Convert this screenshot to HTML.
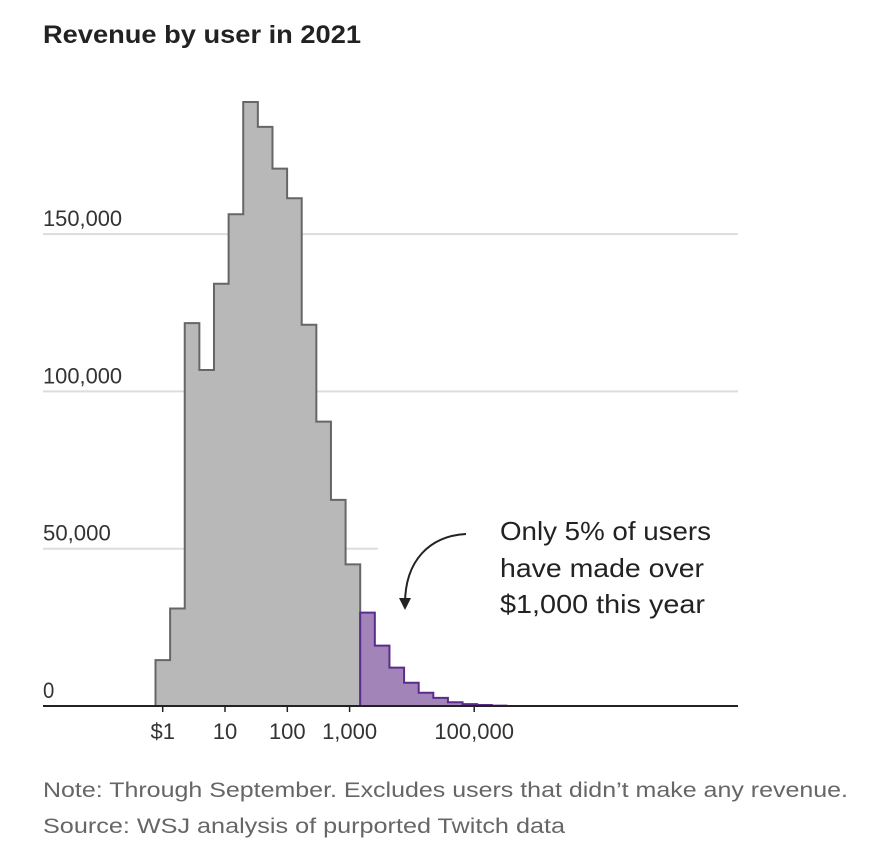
<!DOCTYPE html>
<html><head><meta charset="utf-8"><style>
body{margin:0;background:#fff;}
svg{display:block;font-family:"Liberation Sans",sans-serif;}
</style></head><body>
<svg id="chart" width="869" height="866" viewBox="0 0 869 866">
<text x="43" y="43" font-size="25" font-weight="bold" fill="#222" textLength="318" lengthAdjust="spacingAndGlyphs">Revenue by user in 2021</text>
<g id="grid"></g>
<g id="bars"></g>
<g id="xaxis"></g>
<g>
<path d="M466,534 C430,536 405,560 405,604" fill="none" stroke="#222" stroke-width="2"/>
<path d="M399,598 L405,610 L411,598 Z" fill="#222"/>
<text font-size="26" fill="#222">
<tspan x="500" y="540" textLength="211" lengthAdjust="spacingAndGlyphs">Only 5% of users</tspan>
<tspan x="500" y="577" textLength="204" lengthAdjust="spacingAndGlyphs">have made over</tspan>
<tspan x="500" y="613" textLength="205" lengthAdjust="spacingAndGlyphs">$1,000 this year</tspan>
</text>
</g>
<text x="43" y="797" font-size="21" fill="#666" textLength="805" lengthAdjust="spacingAndGlyphs">Note: Through September. Excludes users that didn’t make any revenue.</text>
<text x="43" y="833" font-size="21" fill="#666" textLength="522" lengthAdjust="spacingAndGlyphs">Source: WSJ analysis of purported Twitch data</text>
</svg>
<script>
const binStartLog = -0.1156;
const binWidthLog = 0.2347;
const counts = [14600,31000,121700,106800,134200,156300,192000,184100,170800,161400,121200,90400,65500,45000,29700,19200,12200,7400,4200,2600,1200,600,300,100];
const highlightFrom = 14;
const yTicks = [0,50000,100000,150000];
const yTickLabels = ["0","50,000","100,000","150,000"];
const xTickValues = [0,1,2,3,5];
const xTickLabels = ["$1","10","100","1,000","100,000"];

const NS="http://www.w3.org/2000/svg";
const x0=162.7, pxPerDecade=62.3, base=706, pxPer=157.3/50000;
const X=l=>x0+l*pxPerDecade;
const Y=v=>base-v*pxPer;
function mk(tag,attrs,parent){const e=document.createElementNS(NS,tag);for(const k in attrs)e.setAttribute(k,attrs[k]);parent.appendChild(e);return e;}
const grid=document.getElementById('grid'),bars=document.getElementById('bars'),xa=document.getElementById('xaxis');
yTicks.forEach((t,i)=>{
  if(t>0){const ln=mk('line',{x1:43,x2:t===50000?378:738,y1:Y(t),y2:Y(t),stroke:'#ddd','stroke-width':2},grid);
  
  }
  const tx=mk('text',{x:43,y:Y(t)-8,'font-size':22,fill:'#333',textLength:yTickLabels[i].length*11.3,lengthAdjust:'spacingAndGlyphs'},grid);
  tx.textContent=yTickLabels[i];
  
  
});
function outline(from,to,fill,stroke,name){
  let d='M'+X(binStartLog+from*binWidthLog)+','+base;
  for(let i=from;i<to;i++){
    const xa1=X(binStartLog+i*binWidthLog), xb=X(binStartLog+(i+1)*binWidthLog);
    d+=' L'+xa1+','+Y(counts[i])+' L'+xb+','+Y(counts[i]);
  }
  d+=' L'+X(binStartLog+to*binWidthLog)+','+base+' Z';
  const p=mk('path',{d:d,fill:fill,stroke:stroke,'stroke-width':2,'stroke-linejoin':'miter'},bars);
  
  
}
outline(0,highlightFrom,'#b8b8b8','#666','histogram-under-1000');
outline(highlightFrom,counts.length,'#a384b8','#5a2d8c','histogram-over-1000');
const axis=mk('line',{x1:43,x2:738,y1:base,y2:base,stroke:'#222','stroke-width':2},xa);


xTickValues.forEach((v,i)=>{
  const t=mk('line',{x1:X(v),x2:X(v),y1:base,y2:base+6,stroke:'#222','stroke-width':1.5},xa);
  
  
  const tx=mk('text',{x:X(v),y:base+33,'font-size':22,fill:'#333','text-anchor':'middle'},xa);
  tx.textContent=xTickLabels[i];
  
  
});
</script>
</body></html>
